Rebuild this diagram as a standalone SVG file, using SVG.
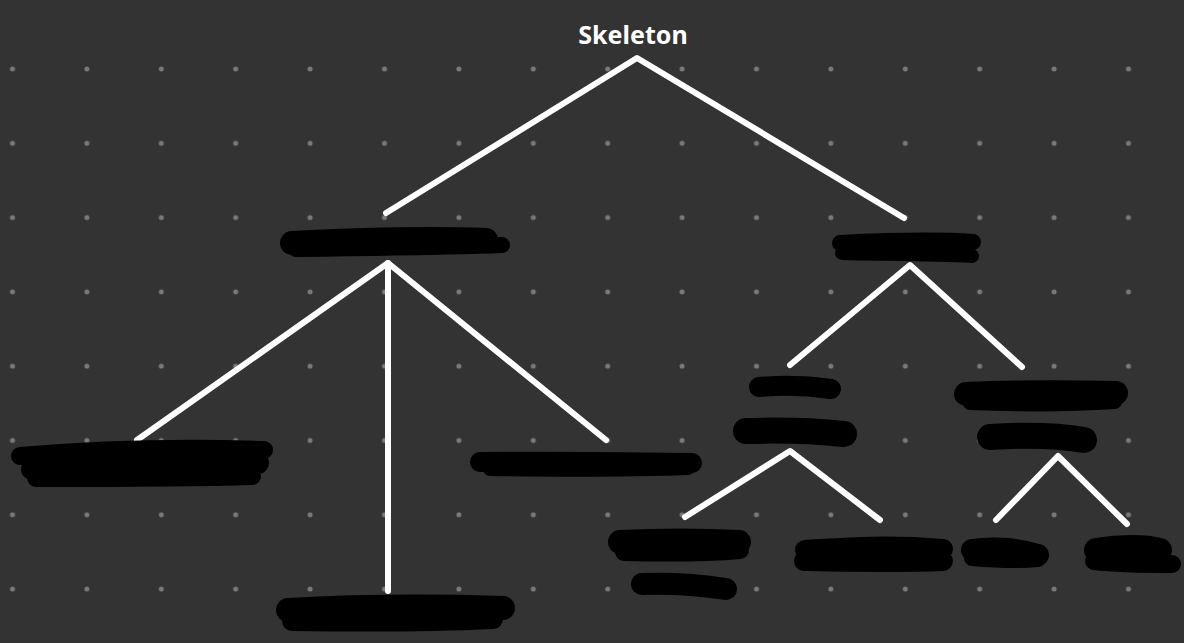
<svg xmlns="http://www.w3.org/2000/svg" width="1184" height="643" viewBox="0 0 1184 643">
<defs>
<pattern id="dots" x="12.5" y="69" width="74.4" height="74.3" patternUnits="userSpaceOnUse">
<circle cx="0" cy="0" r="2.5" fill="#7a7a7a"/>
<circle cx="74.4" cy="0" r="2.5" fill="#7a7a7a"/>
<circle cx="0" cy="74.3" r="2.5" fill="#7a7a7a"/>
<circle cx="74.4" cy="74.3" r="2.5" fill="#7a7a7a"/>
</pattern>
</defs>
<style>
.edge{fill:none;stroke:#ffffff;stroke-width:6;stroke-linecap:round;stroke-linejoin:round}
.blob{fill:none;stroke:#000000;stroke-linecap:round;stroke-linejoin:round}
.title{font-family:"Comic Sans MS","Noto Sans",sans-serif;font-size:25px;font-weight:bold;fill:#ffffff;text-anchor:middle}
</style>
<rect width="1184" height="643" fill="#333333"/>
<rect width="1184" height="643" fill="url(#dots)"/>
<g id="connectors">
<polyline class="edge" points="386,213 637,58 904,218"/>
<polyline class="edge" points="137,440 388,263 606,440"/>
<line class="edge" x1="388" y1="263" x2="388" y2="591"/>
<polyline class="edge" points="790,365 910,265 1022,367"/>
<polyline class="edge" points="685,517 790,451 880,520"/>
<polyline class="edge" points="996,520 1058,456 1127,524"/>
</g>
<g id="node-root"><text class="title" x="633" y="44">Skeleton</text></g>
<g id="node-left">
<path class="blob" stroke-width="24" d="M292,243 C350,240 430,238 486,240"/>
<path class="blob" stroke-width="16" d="M296,249 C380,248 450,247 502,245"/>
</g>
<g id="node-right">
<path class="blob" stroke-width="16" d="M840,243 C880,241 930,239 973,242"/>
<path class="blob" stroke-width="14" d="M842,253 C880,254 930,254 972,256"/>
</g>
<g id="node-l1">
<path class="blob" stroke-width="18" d="M20,456 C90,450 180,447 264,450"/>
<path class="blob" stroke-width="22" d="M32,469 C100,465 180,466 258,463"/>
<path class="blob" stroke-width="18" d="M36,478 C110,478 190,478 252,476"/>
</g>
<g id="node-l2">
<path class="blob" stroke-width="20" d="M480,462 C550,461 620,462 692,463"/>
<path class="blob" stroke-width="14" d="M490,469 C560,470 630,470 688,468"/>
</g>
<g id="node-l3">
<path class="blob" stroke-width="24" d="M288,610 C360,606 440,606 503,608"/>
<path class="blob" stroke-width="20" d="M292,621 C360,622 430,622 493,619"/>
</g>
<g id="node-r1">
<path class="blob" stroke-width="20" d="M759,387 C780,385 805,385 831,389"/>
<path class="blob" stroke-width="26" d="M746,431 C780,430 815,431 844,434"/>
</g>
<g id="node-r2">
<path class="blob" stroke-width="24" d="M966,394 C1010,392 1070,392 1116,393"/>
<path class="blob" stroke-width="14" d="M970,403 C1020,405 1070,405 1115,402"/>
<path class="blob" stroke-width="26" d="M990,437 C1020,435 1055,435 1084,440"/>
</g>
<g id="node-r1a">
<path class="blob" stroke-width="24" d="M620,542 C660,540 700,540 739,542"/>
<path class="blob" stroke-width="18" d="M624,552 C665,553 705,553 740,550"/>
<path class="blob" stroke-width="22" d="M642,584 C670,583 700,585 726,589"/>
</g>
<g id="node-r1b">
<path class="blob" stroke-width="20" d="M805,550 C840,548 880,544 943,549"/>
<path class="blob" stroke-width="20" d="M804,561 C850,562 890,563 943,561"/>
</g>
<g id="node-r2a">
<path class="blob" stroke-width="22" d="M972,550 C990,547 1015,548 1038,555"/>
<path class="blob" stroke-width="16" d="M972,558 C995,560 1020,561 1038,559"/>
</g>
<g id="node-r2b">
<path class="blob" stroke-width="24" d="M1096,550 C1120,546 1145,546 1160,550"/>
<path class="blob" stroke-width="18" d="M1094,561 C1120,564 1150,564 1172,564"/>
</g>
</svg>
